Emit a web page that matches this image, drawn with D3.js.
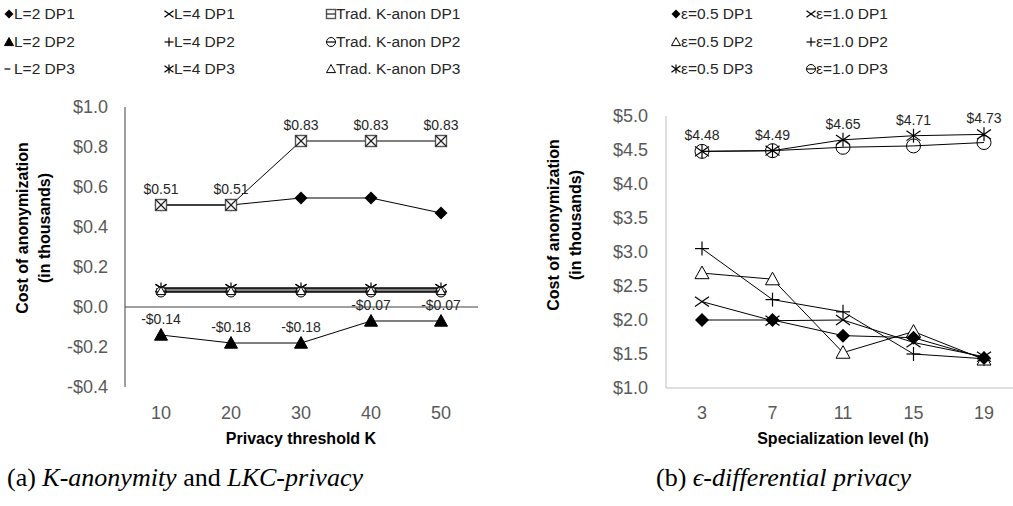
<!DOCTYPE html>
<html>
<head>
<meta charset="utf-8">
<script src="https://cdn.jsdelivr.net/npm/d3@7"></script>
<style>
  body { margin: 0; background: #fff; }
  svg { display: block; }
  text { font-family: "Liberation Sans", Arial, sans-serif; }
</style>
</head>
<body>
<div id="container"></div>
<script>
// ---- data: panel (a) ----
const kValues = [10, 20, 30, 40, 50];
const l2dp1 = [0.51, 0.51, 0.545, 0.545, 0.47];
const l2dp2 = [-0.14, -0.18, -0.18, -0.07, -0.07];
const l2dp3 = [0.09, 0.09, 0.09, 0.09, 0.09];
const l4dp1 = [0.095, 0.095, 0.095, 0.095, 0.095];
const l4dp2 = [0.075, 0.075, 0.075, 0.075, 0.075];
const l4dp3 = [0.095, 0.095, 0.095, 0.095, 0.095];
const tradDp1 = [0.51, 0.51, 0.83, 0.83, 0.83];
const tradDp2 = [0.075, 0.075, 0.075, 0.075, 0.075];
const tradDp3 = [0.08, 0.08, 0.08, 0.08, 0.08];
const leftTicks = [-0.4, -0.2, 0, 0.2, 0.4, 0.6, 0.8, 1.0];

// ---- data: panel (b) ----
const hValues = [3, 7, 11, 15, 19];
const e05dp1 = [2.0, 2.0, 1.77, 1.74, 1.44];
const e05dp2 = [2.69, 2.6, 1.52, 1.83, 1.42];
const e05dp3 = [4.48, 4.49, 4.65, 4.71, 4.73];
const e10dp1 = [2.27, 1.99, 2.0, 1.67, 1.46];
const e10dp2 = [3.05, 2.3, 2.12, 1.5, 1.43];
const e10dp3 = [4.48, 4.49, 4.54, 4.56, 4.61];
const rightTicks = [1.0, 1.5, 2.0, 2.5, 3.0, 3.5, 4.0, 4.5, 5.0];

const w = 1013, h = 506;
const svg = d3.select("#container").append("svg").attr("width", w).attr("height", h);

const money = v => (v < 0 ? "-$" : "$") + d3.format(".2f")(Math.abs(v));
const moneyTick = v => (v < 0 ? "-$" : "$") + d3.format(".1f")(Math.abs(v));

// draw a marker of a given type centred on (0,0)
function marker(g, type, s) {
  const r = s / 2;
  const ln = (x1, y1, x2, y2, c) => g.append("line").attr("x1", x1).attr("y1", y1).attr("x2", x2).attr("y2", y2)
      .attr("stroke", c || "#000").attr("stroke-width", 1.2);
  if (type === "diamond") {
    g.append("path").attr("d", `M0,${-r}L${r},0L0,${r}L${-r},0Z`).attr("fill", "#000");
  } else if (type === "triFill" || type === "triOpen") {
    g.append("path").attr("d", `M0,${-r}L${r},${r * 0.8}L${-r},${r * 0.8}Z`)
      .attr("fill", type === "triFill" ? "#000" : "#fff").attr("stroke", "#000").attr("stroke-width", 1);
  } else if (type === "dash") {
    ln(-r, 0, r * 0.3, 0);
  } else if (type === "x") {
    ln(-r, -r * 0.7, r, r * 0.7); ln(-r, r * 0.7, r, -r * 0.7);
  } else if (type === "plus") {
    ln(-r, 0, r, 0); ln(0, -r, 0, r);
  } else if (type === "star") {
    ln(-r, -r * 0.7, r, r * 0.7); ln(-r, r * 0.7, r, -r * 0.7); ln(0, -r, 0, r);
  } else if (type === "squareX" || type === "squareMinus") {
    g.append("rect").attr("x", -r).attr("y", -r).attr("width", s).attr("height", s)
      .attr("fill", "#fff").attr("stroke", "#555").attr("stroke-width", 1.4);
    if (type === "squareX") { ln(-r, -r, r, r, "#222"); ln(-r, r, r, -r, "#222"); }
    else ln(-r, 0, r, 0, "#222");
  } else if (type === "circleMinus") {
    g.append("circle").attr("r", r).attr("fill", "#fff").attr("stroke", "#000").attr("stroke-width", 1);
    ln(-r, 0, r, 0);
  } else if (type === "circle") {
    g.append("circle").attr("r", r).attr("fill", "none").attr("stroke", "#000").attr("stroke-width", 1);
  }
}

function drawSeries(g, xs, ys, xScale, yScale, type, size, labels) {
  const pts = xs.map((x, i) => [xScale(x), yScale(ys[i])]);
  g.append("path").attr("d", d3.line()(pts)).attr("fill", "none").attr("stroke", "#000").attr("stroke-width", 1);
  pts.forEach(p => marker(g.append("g").attr("transform", `translate(${p[0]},${p[1]})`), type, size));
  if (labels) {
    pts.forEach((p, i) => g.append("text").attr("x", p[0]).attr("y", p[1] - 11)
      .attr("text-anchor", "middle").style("font-size", "14px").attr("fill", "#262626").text(money(ys[i])));
  }
}

function legend(items, x0, colX, rowY) {
  items.forEach((it, i) => {
    const col = Math.floor(i / 3), row = i % 3;
    const gx = x0 + colX[col], gy = rowY[row];
    marker(svg.append("g").attr("transform", `translate(${gx},${gy})`), it[0], 9);
    svg.append("text").attr("x", gx + 5).attr("y", gy + 5).style("font-size", "15.5px").attr("fill", "#262626").text(it[1]);
  });
}

// ---------------- panel (a) ----------------
const xA = d3.scaleLinear().domain([5, 55]).range([126, 476]);
const yA = d3.scaleLinear().domain([-0.4, 1.0]).range([387, 107]);
const gA = svg.append("g");

gA.append("line").attr("x1", 125).attr("x2", 125).attr("y1", yA(1.0)).attr("y2", yA(-0.4)).attr("stroke", "#404040");
gA.append("line").attr("x1", 125).attr("x2", 478).attr("y1", yA(0)).attr("y2", yA(0)).attr("stroke", "#404040");

leftTicks.forEach(t => gA.append("text").attr("x", 108).attr("y", yA(t) + 6).attr("text-anchor", "end")
  .style("font-size", "18px").attr("fill", "#595959").text(moneyTick(t)));
kValues.forEach(k => gA.append("text").attr("x", xA(k)).attr("y", 419).attr("text-anchor", "middle")
  .style("font-size", "18px").attr("fill", "#595959").text(k));

gA.append("text").attr("x", 301).attr("y", 444).attr("text-anchor", "middle")
  .style("font-size", "16px").style("font-weight", "bold").text("Privacy threshold K");
gA.append("text").attr("transform", "translate(28,228) rotate(-90)").attr("text-anchor", "middle")
  .style("font-size", "16px").style("font-weight", "bold").text("Cost of anonymization");
gA.append("text").attr("transform", "translate(50,228) rotate(-90)").attr("text-anchor", "middle")
  .style("font-size", "16px").style("font-weight", "bold").text("(in thousands)");

drawSeries(gA, kValues, l2dp1, xA, yA, "diamond", 13);
drawSeries(gA, kValues, l2dp2, xA, yA, "triFill", 13, true);
drawSeries(gA, kValues, l2dp3, xA, yA, "dash", 10);
drawSeries(gA, kValues, l4dp1, xA, yA, "x", 11);
drawSeries(gA, kValues, l4dp2, xA, yA, "plus", 10);
drawSeries(gA, kValues, l4dp3, xA, yA, "star", 11);
drawSeries(gA, kValues, tradDp2, xA, yA, "circleMinus", 10);
drawSeries(gA, kValues, tradDp3, xA, yA, "triOpen", 9);
drawSeries(gA, kValues, tradDp1, xA, yA, "squareX", 11, true);

legend([
  ["diamond", "L=2 DP1"], ["triFill", "L=2 DP2"], ["dash", "L=2 DP3"],
  ["x", "L=4 DP1"], ["plus", "L=4 DP2"], ["star", "L=4 DP3"],
  ["squareMinus", "Trad. K-anon DP1"], ["circleMinus", "Trad. K-anon DP2"], ["triOpen", "Trad. K-anon DP3"]
], 0, [9, 169, 331], [14, 42, 69]);

// ---------------- panel (b) ----------------
const xB = d3.scaleLinear().domain([1, 21]).range([666.75, 1019.25]);
const yB = d3.scaleLinear().domain([1, 5]).range([388, 116]);
const gB = svg.append("g");

gB.append("line").attr("x1", 666).attr("x2", 666).attr("y1", yB(5)).attr("y2", yB(1)).attr("stroke", "#bfbfbf");
gB.append("line").attr("x1", 666).attr("x2", 1013).attr("y1", yB(1)).attr("y2", yB(1)).attr("stroke", "#bfbfbf");

rightTicks.forEach(t => gB.append("text").attr("x", 648).attr("y", yB(t) + 6).attr("text-anchor", "end")
  .style("font-size", "18px").attr("fill", "#595959").text(moneyTick(t)));
hValues.forEach(v => gB.append("text").attr("x", xB(v)).attr("y", 419).attr("text-anchor", "middle")
  .style("font-size", "18px").attr("fill", "#595959").text(v));

gB.append("text").attr("x", 843).attr("y", 444).attr("text-anchor", "middle")
  .style("font-size", "16px").style("font-weight", "bold").text("Specialization level (h)");
gB.append("text").attr("transform", "translate(559,225) rotate(-90)").attr("text-anchor", "middle")
  .style("font-size", "16px").style("font-weight", "bold").text("Cost of anonymization");
gB.append("text").attr("transform", "translate(581,225) rotate(-90)").attr("text-anchor", "middle")
  .style("font-size", "16px").style("font-weight", "bold").text("(in thousands)");

drawSeries(gB, hValues, e10dp3, xB, yB, "circle", 14);
drawSeries(gB, hValues, e05dp3, xB, yB, "star", 14, true);
drawSeries(gB, hValues, e10dp2, xB, yB, "plus", 14);
drawSeries(gB, hValues, e10dp1, xB, yB, "x", 14);
drawSeries(gB, hValues, e05dp2, xB, yB, "triOpen", 14);
drawSeries(gB, hValues, e05dp1, xB, yB, "diamond", 14);

legend([
  ["diamond", "\u03b5=0.5 DP1"], ["triOpen", "\u03b5=0.5 DP2"], ["star", "\u03b5=0.5 DP3"],
  ["x", "\u03b5=1.0 DP1"], ["plus", "\u03b5=1.0 DP2"], ["circleMinus", "\u03b5=1.0 DP3"]
], 540, [136, 271], [14, 42, 69]);

// ---------------- captions ----------------
const capA = svg.append("text").attr("x", 7).attr("y", 486)
  .style("font-family", "'Liberation Serif', 'DejaVu Serif', serif").style("font-size", "26px");
capA.append("tspan").text("(a) ");
capA.append("tspan").style("font-style", "italic").text("K-anonymity");
capA.append("tspan").text(" and ");
capA.append("tspan").style("font-style", "italic").text("LKC-privacy");

const capB = svg.append("text").attr("x", 656).attr("y", 486)
  .style("font-family", "'Liberation Serif', 'DejaVu Serif', serif").style("font-size", "26px");
capB.append("tspan").text("(b) ");
capB.append("tspan").style("font-style", "italic").text("\u03f5-differential privacy");
</script>
</body>
</html>
